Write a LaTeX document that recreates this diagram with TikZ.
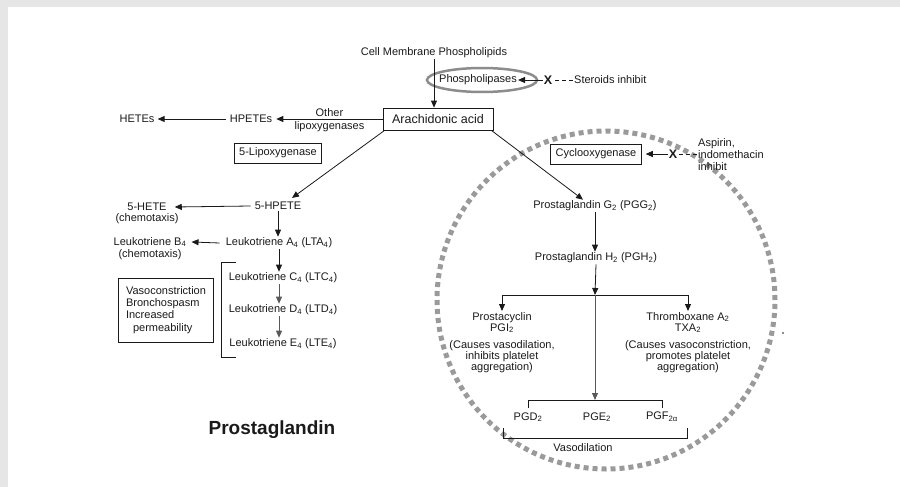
\documentclass[tikz,border=0pt]{standalone}
\usepackage{fontspec}
\setmainfont{Liberation Sans}
\usepackage{xcolor}
\usepackage{tikz}
\usetikzlibrary{shapes.geometric, arrows.meta, positioning}
\definecolor{frameGray}{HTML}{E6E6E6}
\definecolor{ringGray}{HTML}{9A9A9A}
\definecolor{ovalGray}{HTML}{8C8C8C}
\definecolor{inkDark}{HTML}{1A1A1A}

\begin{document}
\begin{tikzpicture}[
    x=1pt, y=-1pt,
    every node/.style={font=\fontsize{11}{11.5}\selectfont, inner sep=1pt, text=inkDark},
    box/.style={rectangle, draw=inkDark, thick, minimum height=#1, inner xsep=5pt},
    box/.default=20pt,
    arrow/.style={-{Triangle[length=7pt, width=6pt]}, thick, #1},
    arrow/.default=inkDark,
    block/.style={align=center, anchor=north, font=\fontsize{11}{11}\selectfont},
    inhibit/.style={dash pattern=on 4pt off 3pt, thick, inkDark},
    xmark/.style={font=\fontsize{12.5}{12.5}\selectfont\bfseries},
    bracket/.style={thick, inkDark}
]

% Frame
\fill[frameGray] (0,0) rectangle (900,487);
\fill[white] (8,7) rectangle (900,487);
\useasboundingbox (0,0) rectangle (900,487);

% Cyclooxygenase ring
\draw[ringGray, line width=5pt, dash pattern=on 5pt off 4pt] (606,300) circle [radius=169pt];

% Membrane and phospholipases
\node (membrane) at (434,53) {Cell Membrane Phospholipids};
\node[ellipse, draw=ovalGray, line width=2.5pt, minimum width=110pt, minimum height=24pt] (plaseRing) at (482,80) {};
\node (plase) at (478,80) {Phospholipases};
\node[xmark] (xSteroid) at (548,80) {X};
\node[anchor=west] (steroids) at (573,80) {Steroids inhibit};

% Arachidonic acid
\node[box=22pt, minimum width=110pt, font=\fontsize{12.5}{13}\selectfont] (aa) at (438,119) {Arachidonic acid};

\draw[arrow] (membrane.south) -- (membrane.south |- aa.north);
\draw[inhibit] (steroids.west) -- (xSteroid.east);
\draw[arrow] (xSteroid.west) -- (plase.east);

% Other lipoxygenases
\node (hpetes) at (251,119) {HPETEs};
\node (hetes) at (137,119) {HETEs};
\draw[arrow] (aa.west) -- node[above=1pt] {Other} node[below=1pt] {lipoxygenases} ([xshift=3pt]hpetes.east);
\draw[arrow] ([xshift=-3pt]hpetes.west) -- ([xshift=2pt]hetes.east);

% 5-Lipoxygenase path
\node[box] (lipox) at (278,153) {5-Lipoxygenase};
\node (hpete) at (278,206) {5-HPETE};
\node (hete) at (147,207) {5-HETE};
\node[below=0pt of hete] (heteNote) {(chemotaxis)};
\draw[arrow] ([xshift=2pt]aa.south west) -- ([xshift=14pt, yshift=3pt]hpete.north);
\draw[arrow] ([xshift=-3pt]hpete.west) -- ([xshift=7pt]hete.east);

\node (lta) at (279,243) {Leukotriene A\textsubscript{4} (LTA\textsubscript{4})};
\node (ltb) at (150,242) {Leukotriene B\textsubscript{4}};
\node[below=0pt of ltb] (ltbNote) {(chemotaxis)};
\draw[arrow] (hpete.south) -- (hpete.south |- lta.north);
\draw[arrow] ([xshift=-5pt]lta.west) -- ([xshift=4pt]ltb.east);

\node (ltc) at (283,278) {Leukotriene C\textsubscript{4} (LTC\textsubscript{4})};
\node (ltd) at (283,310) {Leukotriene D\textsubscript{4} (LTD\textsubscript{4})};
\node (lte) at (283,344) {Leukotriene E\textsubscript{4} (LTE\textsubscript{4})};
\draw[arrow] (lta.south) -- (lta.south |- ltc.north);
\draw[arrow=black!65] (lta.south |- ltc.south) -- (lta.south |- ltd.north);
\draw[arrow=black!65] (lta.south |- ltd.south) -- (lta.south |- lte.north);
\draw[bracket] (236,262) -- (221,262) -- (221,357) -- (236,357);

\node[box, align=left, minimum width=95pt, minimum height=64pt, font=\fontsize{11}{12.3}\selectfont] (effects) at (166,310) {Vasoconstriction\\Bronchospasm\\Increased\\\hspace{7pt}permeability};

% Cyclooxygenase path
\node[box] (cox) at (596,154) {Cyclooxygenase};
\node[xmark] (xAspirin) at (673,154) {X};
\node[anchor=west, align=left, font=\fontsize{11}{12}\selectfont] (aspirin) at (697,155) {Aspirin,\\indomethacin\\inhibit};
\draw[inhibit] (aspirin.west |- xAspirin) -- (xAspirin.east);
\draw[arrow] (xAspirin.west) -- ([xshift=4pt]cox.east);

\node (pgg) at (595,206) {Prostaglandin G\textsubscript{2} (PGG\textsubscript{2})};
\node (pgh) at (596,258) {Prostaglandin H\textsubscript{2} (PGH\textsubscript{2})};
\draw[arrow] ([xshift=-2pt]aa.south east) -- ([xshift=-12pt]pgg.north);
\draw[arrow] (pgg.south) -- (pgg.south |- pgh.north);

\coordinate (split) at (595,295);
\coordinate (pgTop) at (595,400);
\node[block] (pgi) at (502,311) {Prostacyclin\\PGI\textsubscript{2}\\[6pt](Causes vasodilation,\\inhibits platelet\\aggregation)};
\node[block] (txa) at (688,311) {Thromboxane A\textsubscript{2}\\TXA\textsubscript{2}\\[6pt](Causes vasoconstriction,\\promotes platelet\\aggregation)};
\draw[arrow] (pgh.south) -- (split);
\draw[arrow] (split) -| (pgi.north);
\draw[arrow] (split) -| (txa.north);
\draw[arrow=black!65] (split) -- (pgTop);

% Prostaglandins
\node (pgd) at (528,417) {PGD\textsubscript{2}};
\node (pge) at (597,417) {PGE\textsubscript{2}};
\node (pgf) at (662,417) {PGF\textsubscript{2α}};
\draw[bracket] (528,408) -- (528,400) -- (662,400) -- (662,408);
\draw[bracket] (503,428) -- (503,438) -- (687,438) -- (687,428);
\node (vasodil) at (583,448) {Vasodilation};

\fill[inkDark] (783,333) circle [radius=0.9pt];

% Title
\node[font=\fontsize{19}{22}\selectfont\bfseries] (title) at (272,430) {Prostaglandin};

\end{tikzpicture}
\end{document}
